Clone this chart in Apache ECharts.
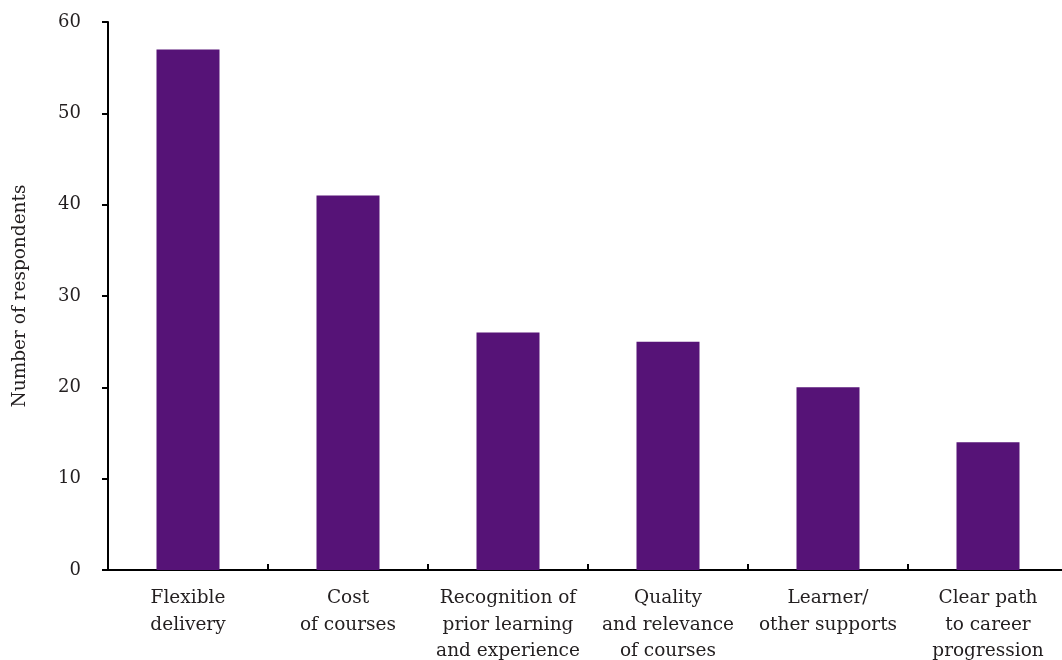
<!DOCTYPE html>
<html>
<head>
<meta charset="utf-8">
<script src="https://cdn.jsdelivr.net/npm/echarts@6/dist/echarts.min.js"></script>
<style>
  html, body { margin: 0; padding: 0; background: #fff; }
  #chart { width: 1062px; height: 660px; }
</style>
</head>
<body>
<div id="chart"></div>
<script>
// Reasons given by respondents
const categories = [
  'Flexible\ndelivery',
  'Cost\nof courses',
  'Recognition of\nprior learning\nand experience',
  'Quality\nand relevance\nof courses',
  'Learner/\nother supports',
  'Clear path\nto career\nprogression'
];
const respondents = [57, 41, 26, 25, 20, 14];
const yTicks = { min: 0, max: 60, interval: 10 };
const yAxisTitle = 'Number of respondents';

const textColor = '#231f20';
const font = 'DejaVu Serif';

const chart = echarts.init(document.getElementById('chart'), null, { renderer: 'canvas' });
chart.setOption({
  animation: false,
  backgroundColor: '#ffffff',
  grid: {
    left: 108, right: -6, top: 22, bottom: 90,
    containLabel: false,
    outerBoundsMode: 'none'
  },
  xAxis: {
    type: 'category',
    data: categories,
    axisLine: { lineStyle: { color: '#000', width: 2 } },
    axisTick: { show: true, inside: true, length: 6, lineStyle: { color: '#000', width: 2 } },
    axisLabel: {
      color: textColor, fontFamily: font, fontSize: 18.5, lineHeight: 26.5,
      margin: 15, interval: 0
    }
  },
  yAxis: {
    type: 'value',
    min: yTicks.min, max: yTicks.max, interval: yTicks.interval,
    name: yAxisTitle,
    nameLocation: 'middle',
    nameGap: 78,
    nameRotate: 90,
    nameTextStyle: { color: textColor, fontFamily: font, fontSize: 18.5 },
    axisLine: { show: true, lineStyle: { color: '#000', width: 2 } },
    axisTick: { show: true, length: 6, lineStyle: { color: '#000', width: 2 } },
    axisLabel: { color: textColor, fontFamily: font, fontSize: 18, margin: 27 },
    splitLine: { show: false }
  },
  series: [{
    type: 'bar',
    data: respondents,
    barWidth: 63,
    itemStyle: { color: '#561377' }
  }]
});
</script>
</body>
</html>
